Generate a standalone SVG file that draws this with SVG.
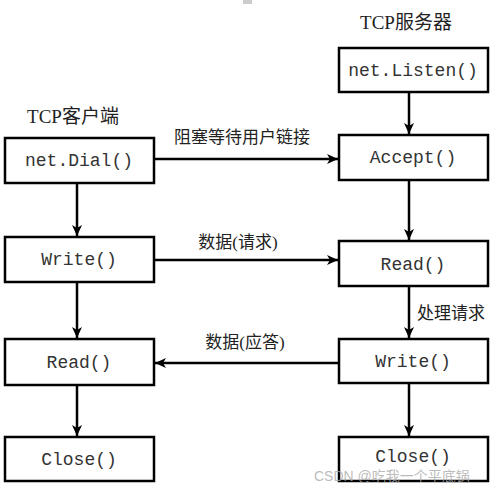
<svg xmlns="http://www.w3.org/2000/svg" width="499" height="486" viewBox="0 0 499 486">
<style>
.box{fill:#fff;stroke:#000;stroke-width:2.5}
.bt{font-family:"Liberation Mono","Noto Sans CJK SC",monospace;font-size:18px;fill:#333;text-anchor:middle}
.lb{font-family:"Liberation Serif","Noto Sans CJK SC",serif;font-size:17px;fill:#222}
.hd{font-family:"Liberation Serif","Noto Sans CJK SC",serif;font-size:19px;fill:#222;text-anchor:middle}
.cn{fill:none;stroke:#000;stroke-width:2.5}
.wm{font-family:"Liberation Sans","Noto Sans CJK SC",sans-serif;font-size:14px;fill:#aaa;fill-opacity:0.8}
</style>
<defs>
<marker id="ah" markerUnits="userSpaceOnUse" markerWidth="12" markerHeight="12" refX="11" refY="6" orient="auto">
<path d="M0,1 L11,6 L0,11 L3,6 z" fill="#000"/>
</marker>
</defs>
<rect width="499" height="486" fill="#fff"/>
<rect x="243" y="0" width="9" height="4" fill="#ccc"/>
<text class="hd" x="73" y="123">TCP客户端</text>
<text class="hd" x="406" y="29">TCP服务器</text>
<g id="connectors">
<line class="cn" x1="77" y1="183" x2="77" y2="236" marker-end="url(#ah)"/>
<line class="cn" x1="77" y1="282" x2="77" y2="338" marker-end="url(#ah)"/>
<line class="cn" x1="77" y1="385" x2="77" y2="436" marker-end="url(#ah)"/>
<line class="cn" x1="409" y1="92" x2="409" y2="134" marker-end="url(#ah)"/>
<line class="cn" x1="409" y1="180" x2="409" y2="240" marker-end="url(#ah)"/>
<line class="cn" x1="409" y1="286" x2="409" y2="338" marker-end="url(#ah)"/>
<line class="cn" x1="409" y1="383" x2="409" y2="436" marker-end="url(#ah)"/>
<line class="cn" x1="154" y1="159" x2="338" y2="159" marker-end="url(#ah)"/>
<line class="cn" x1="154" y1="260" x2="338" y2="260" marker-end="url(#ah)"/>
<line class="cn" x1="339" y1="363" x2="155" y2="363" marker-end="url(#ah)"/>
<text class="lb" x="242" y="143" text-anchor="middle">阻塞等待用户链接</text>
<text class="lb" x="238" y="248" text-anchor="middle">数据(请求)</text>
<text class="lb" x="245" y="348" text-anchor="middle">数据(应答)</text>
<text class="lb" x="417" y="319">处理请求</text>
</g>
<g id="n-dial"><rect class="box" x="5" y="138" width="149" height="45"/><text class="bt" x="79" y="166">net.Dial()</text></g>
<g id="n-write-c"><rect class="box" x="5" y="237" width="149" height="45"/><text class="bt" x="79" y="265">Write()</text></g>
<g id="n-read-c"><rect class="box" x="5" y="339" width="149" height="46"/><text class="bt" x="79" y="368">Read()</text></g>
<g id="n-close-c"><rect class="box" x="5" y="437" width="149" height="44"/><text class="bt" x="79" y="465">Close()</text></g>
<g id="n-listen"><rect class="box" x="339" y="48" width="149" height="44"/><text class="bt" x="413" y="76">net.Listen()</text></g>
<g id="n-accept"><rect class="box" x="339" y="135" width="149" height="45"/><text class="bt" x="413" y="163">Accept()</text></g>
<g id="n-read-s"><rect class="box" x="339" y="241" width="149" height="45"/><text class="bt" x="413" y="270">Read()</text></g>
<g id="n-write-s"><rect class="box" x="339" y="339" width="149" height="44"/><text class="bt" x="413" y="367">Write()</text></g>
<g id="n-close-s"><rect class="box" x="339" y="437" width="149" height="44"/><text class="bt" x="413" y="462">Close()</text></g>
<text class="wm" x="314" y="481">CSDN @吃我一个平底锅</text>
</svg>
